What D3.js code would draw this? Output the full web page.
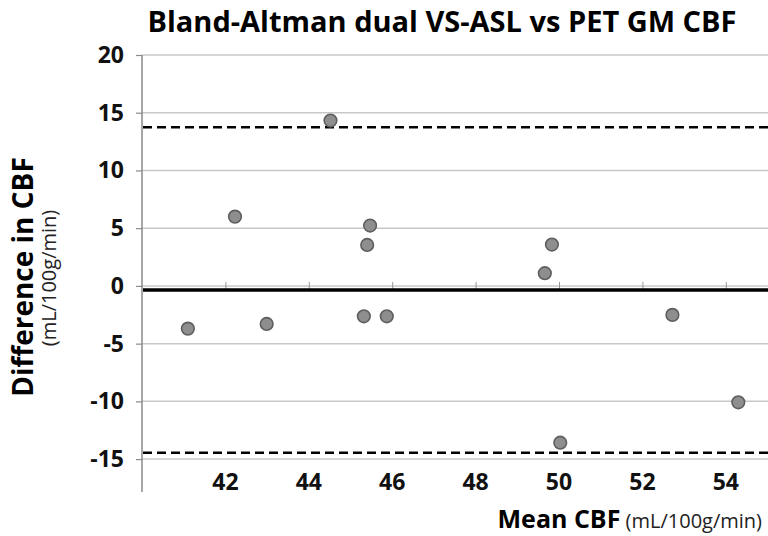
<!DOCTYPE html>
<html>
<head>
<meta charset="utf-8">
<script src="https://cdn.jsdelivr.net/npm/d3@7"></script>
<style>
  html, body { margin: 0; padding: 0; background: #fff; }
  svg { display: block; }
</style>
</head>
<body>
<svg id="chart" width="768" height="536"></svg>
<script>
// ---- data ----
const meanCBF = [44.52, 42.23, 45.47, 45.40, 41.10, 42.99, 45.32, 45.87, 49.83, 49.66, 52.72, 54.30, 50.03];
const diffCBF = [14.32, 6.0, 5.23, 3.55, -3.70, -3.29, -2.63, -2.63, 3.58, 1.10, -2.51, -10.08, -13.58];
const biasValue = -0.35;
const upperLoA = 13.75;
const lowerLoA = -14.45;
const xTicks = [42, 44, 46, 48, 50, 52, 54];
const yTicks = [-15, -10, -5, 0, 5, 10, 15, 20];
const titleText = "Bland-Altman dual VS-ASL vs PET GM CBF";
const yLabelMain = "Difference in CBF";
const yLabelUnit = "(mL/100g/min)";
const xLabelMain = "Mean CBF";
const xLabelUnit = " (mL/100g/min)";

(function () {
// ---- layout ----
const svg = d3.select("#chart");
const pLeft = 142, pRight = 768, pTop = 55, pBottom = 492;
const x = d3.scaleLinear().domain([40, 55]).range([pLeft, pLeft + 15 * 41.7]);
const y = d3.scaleLinear().domain([-17.85, 20]).range([pBottom, pTop]);
const font = "'Open Sans', 'Noto Sans', sans-serif";

// gridlines
svg.append("g")
  .selectAll("line").data(yTicks).join("line")
  .attr("x1", pLeft).attr("x2", pRight)
  .attr("y1", d => y(d)).attr("y2", d => y(d))
  .attr("stroke", "#c8c8c8").attr("stroke-width", 1.5);

// y axis
const yAxis = svg.append("g").attr("transform", `translate(${pLeft},0)`)
  .call(d3.axisLeft(y).tickValues(yTicks).tickSize(6).tickPadding(12).tickFormat(d => String(d)));
yAxis.select(".domain").attr("stroke", "#8a8a8a").attr("stroke-width", 1.5)
  .attr("d", `M0,${pTop}V${pBottom}`);
yAxis.selectAll(".tick line").attr("stroke", "#8a8a8a").attr("stroke-width", 1.2);
yAxis.selectAll(".tick text")
  .attr("font-family", font).attr("font-weight", "bold").attr("font-size", 23).attr("fill", "#111");

// tick marks on zero line
const zAxis = svg.append("g").attr("transform", `translate(0,${y(0)})`)
  .call(d3.axisBottom(x).tickValues(xTicks).tickSize(4).tickFormat(""));
zAxis.select(".domain").remove();
zAxis.selectAll(".tick line").attr("stroke", "#999").attr("y1", -4);

// x tick labels at bottom
svg.append("g")
  .selectAll("text").data(xTicks).join("text")
  .attr("x", d => x(d)).attr("y", 490)
  .attr("text-anchor", "middle")
  .attr("font-family", font).attr("font-weight", "bold").attr("font-size", 23).attr("fill", "#111")
  .text(d => d);

// limits of agreement (dashed)
svg.append("g")
  .selectAll("line").data([upperLoA, lowerLoA]).join("line")
  .attr("x1", pLeft + 1).attr("x2", pRight)
  .attr("y1", d => y(d)).attr("y2", d => y(d))
  .attr("stroke", "#000").attr("stroke-width", 2.5).attr("stroke-dasharray", "9,5");

// mean bias line
svg.append("line")
  .attr("x1", pLeft + 1).attr("x2", pRight)
  .attr("y1", y(biasValue)).attr("y2", y(biasValue))
  .attr("stroke", "#000").attr("stroke-width", 3.5);

// points
svg.append("g")
  .selectAll("circle").data(meanCBF.map((m, i) => [m, diffCBF[i]])).join("circle")
  .attr("cx", d => x(d[0])).attr("cy", d => y(d[1]))
  .attr("r", 6.3)
  .attr("fill", "#8e8e8e").attr("stroke", "#5e5e5e").attr("stroke-width", 1.6);

// title
svg.append("text")
  .attr("x", 442).attr("y", 32).attr("text-anchor", "middle")
  .attr("font-family", font).attr("font-weight", "bold").attr("font-size", 29).attr("fill", "#000")
  .text(titleText);

// y labels
svg.append("text")
  .attr("transform", `translate(33,${277}) rotate(-90)`)
  .attr("text-anchor", "middle")
  .attr("font-family", font).attr("font-weight", "bold").attr("font-size", 28).attr("fill", "#000")
  .text(yLabelMain);
svg.append("text")
  .attr("transform", `translate(56,${278}) rotate(-90)`)
  .attr("text-anchor", "middle")
  .attr("font-family", font).attr("font-size", 20).attr("fill", "#222")
  .text(yLabelUnit);

// x label
const xl = svg.append("text")
  .attr("x", 762).attr("y", 528).attr("text-anchor", "end")
  .attr("font-family", font).attr("fill", "#000");
xl.append("tspan").attr("font-weight", "bold").attr("font-size", 25).text(xLabelMain);
xl.append("tspan").attr("font-size", 20).attr("fill", "#222").text(xLabelUnit);
})();
</script>
</body>
</html>
